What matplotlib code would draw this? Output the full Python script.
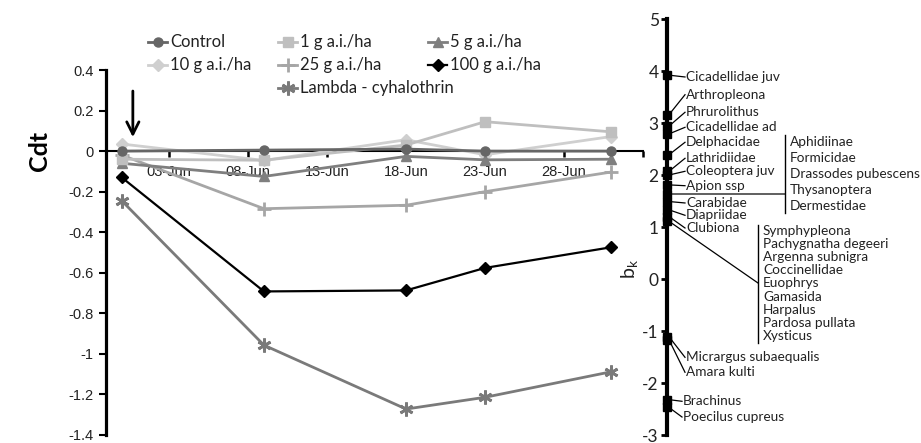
import matplotlib
matplotlib.use('Agg')
import matplotlib.pyplot as plt
import matplotlib.dates as mdates
import matplotlib.transforms as mtransforms
from matplotlib.lines import Line2D
from matplotlib.ticker import FixedLocator, FuncFormatter
import numpy as np

plt.rcParams['font.family'] = ['Lato', 'DejaVu Sans']
plt.rcParams['axes.unicode_minus'] = False

# sampling dates and community deviation (Cdt) per treatment
dates = np.array(['2010-05-31', '2010-06-09', '2010-06-18', '2010-06-23', '2010-07-01'],
                 dtype='datetime64[D]')
cdt_control = [0.0, 0.005, 0.01, 0.0, 0.0]
cdt_1g = [-0.04, -0.045, 0.03, 0.145, 0.095]
cdt_5g = [-0.06, -0.125, -0.026, -0.043, -0.04]
cdt_10g = [0.035, -0.046, 0.056, -0.018, 0.072]
cdt_25g = [-0.02, -0.284, -0.267, -0.2, -0.103]
cdt_100g = [-0.13, -0.692, -0.687, -0.576, -0.474]
cdt_lambda = [-0.245, -0.957, -1.272, -1.214, -1.088]

# species weights (bk)
single_taxa = ['Cicadellidae juv', 'Arthropleona', 'Phrurolithus', 'Cicadellidae ad',
               'Delphacidae', 'Lathridiidae', 'Coleoptera juv', 'Apion ssp',
               'Carabidae', 'Diapriidae', 'Clubiona',
               'Micrargus subaequalis', 'Amara kulti', 'Brachinus', 'Poecilus cupreus']
single_bk = [3.92, 3.16, 2.94, 2.79, 2.39, 2.07, 2.0, 1.81,
             1.49, 1.33, 1.2, -1.11, -1.17, -2.32, -2.47]
group1_taxa = ['Aphidiinae', 'Formicidae', 'Drassodes pubescens', 'Thysanoptera', 'Dermestidae']
group1_bk = 1.63
group2_taxa = ['Symphypleona', 'Pachygnatha degeeri', 'Argenna subnigra', 'Coccinellidae',
               'Euophrys', 'Gamasida', 'Harpalus', 'Pardosa pullata', 'Xysticus']
group2_bk = 1.11

# label placement (bk units) for the taxa lists
single_label_y = [3.885, 3.544, 3.206, 2.917, 2.629, 2.321, 2.071, 1.794,
                  1.462, 1.225, 0.981, -1.506, -1.794, -2.352, -2.654]
single_label_x = [19] * 11 + [19, 19, 16, 16]

W, H = 921, 443
fig = plt.figure(figsize=(W / 100, H / 100), dpi=100)

styles = [
    ('Control', cdt_control, dict(color='#666666', marker='o', ms=6.5, lw=2)),
    ('1 g a.i./ha', cdt_1g, dict(color='#bfbfbf', marker='s', ms=7.5, lw=2)),
    ('5 g a.i./ha', cdt_5g, dict(color='#7f7f7f', marker='^', ms=7.5, lw=2)),
    ('10 g a.i./ha', cdt_10g, dict(color='#cfcfcf', marker='D', ms=6.5, lw=2)),
    ('25 g a.i./ha', cdt_25g, dict(color='#a6a6a6', marker='+', ms=10, mew=2, lw=2)),
    ('100 g a.i./ha', cdt_100g, dict(color='black', marker='D', ms=6, lw=1.6)),
    ('Lambda - cyhalothrin', cdt_lambda, dict(color='#7a7a7a', marker=(6, 2, 0), ms=10, mew=2, lw=2)),
]

bottom_px = 8

# ---- left panel: Cdt over time ----
ax = fig.add_axes([106 / W, bottom_px / H, 537 / W, (437 - 72) / H])
for name, vals, st in styles[::-1]:
    ax.plot(mdates.date2num(dates), vals, clip_on=False, zorder=3, **st)

x0 = mdates.date2num(np.datetime64('2010-05-30'))
x1 = mdates.date2num(np.datetime64('2010-07-03'))
ax.set_xlim(x0, x1)
ax.set_ylim(-1.4, 0.4)
ax.set_yticks(np.arange(-1.4, 0.41, 0.2))


def ylab(v, p):
    if abs(v) < 1e-9:
        return '0'
    if abs(v - round(v)) < 1e-9:
        return '%d' % round(v)
    return '%.1f' % v


ax.yaxis.set_major_formatter(FuncFormatter(ylab))

tick_dates = np.arange(x0 + 4, x1 + 0.1, 5)
ax.xaxis.set_major_locator(FixedLocator(tick_dates))
ax.xaxis.set_major_formatter(FuncFormatter(
    lambda v, p: '' if v > x1 - 1 else mdates.num2date(v).strftime('%d-%b')))

for s in ['top', 'right']:
    ax.spines[s].set_visible(False)
ax.spines['left'].set_linewidth(2.3)
ax.spines['bottom'].set_position(('data', 0))
ax.spines['bottom'].set_linewidth(1.5)
ax.tick_params(axis='y', direction='out', length=5, width=1.5, labelsize=10.5,
               labelfontfamily='Liberation Sans', labelcolor='#222222', pad=4)
ax.tick_params(axis='x', direction='out', length=4, width=1.8, labelsize=10.5,
               labelfontfamily='Liberation Sans', labelcolor='#222222', pad=6)

ax.text(-0.123, 0, 'Cdt', rotation=90, ha='center', va='center', fontsize=18,
        fontweight='bold', transform=mtransforms.blended_transform_factory(ax.transAxes, ax.transData))

arrow_x = mdates.date2num(np.datetime64('2010-05-31')) + 0.7
ax.annotate('', xy=(arrow_x, 0.055), xytext=(arrow_x, 0.31),
            arrowprops=dict(arrowstyle='->', lw=2, color='black', mutation_scale=22))


# legend laid out in three columns
def fig_xy(px, py):
    return px / W, 1 - py / H


legend_pos = [(148, 42), (278, 42), (428, 42), (148, 65), (278, 65), (428, 65), (278, 88)]
for (name, vals, st), (lx, ly) in zip(styles, legend_pos):
    hx0, hy = fig_xy(lx, ly)
    hx1, _ = fig_xy(lx + 19, ly)
    fig.add_artist(Line2D([hx0, hx1], [hy, hy], transform=fig.transFigure,
                          color=st['color'], lw=st['lw']))
    fig.add_artist(Line2D([(hx0 + hx1) / 2], [hy], transform=fig.transFigure, **st))
    tx, ty = fig_xy(lx + 22, ly)
    fig.text(tx, ty, name, ha='left', va='center', fontsize=12, color='#222222')

# ---- right panel: species weights ----
ax2 = fig.add_axes([667 / W, bottom_px / H, 254 / W, (437 - 21) / H])
ax2.set_xlim(0, 254)
ax2.set_ylim(-3, 5)
for s in ['top', 'right', 'bottom']:
    ax2.spines[s].set_visible(False)
ax2.spines['left'].set_linewidth(3)
ax2.set_xticks([])
ax2.set_yticks(range(-3, 6))
ax2.tick_params(axis='y', direction='out', length=4, width=2, labelsize=12.5,
                labelcolor='#222222', pad=2)
ax2.patch.set_alpha(0)
ax2.text(-37, 0.2, 'b$_\\mathregular{k}$', rotation=90, ha='center', va='center',
         fontsize=14, color='#222222')

lab_fs = 9.8
for name, bk, ly, lx in zip(single_taxa, single_bk, single_label_y, single_label_x):
    ax2.plot([2, lx - 1], [bk, ly], color='black', lw=0.9, clip_on=False)
    ax2.text(lx, ly, name, ha='left', va='center', fontsize=lab_fs, color='#222222')

all_bk = single_bk + [group1_bk, group2_bk]
ax2.plot(np.zeros(len(all_bk)), all_bk, 's', color='black', ms=5.5, clip_on=False, zorder=4)

# first group: horizontal leader to a bracket
g1_x = 118
ax2.plot([0, g1_x], [group1_bk, group1_bk], color='#444444', lw=1.2)
ax2.plot([g1_x, g1_x], [2.76, 1.27], color='black', lw=1)
for i, name in enumerate(group1_taxa):
    ax2.text(g1_x + 5, 2.635 - i * 0.308, name, ha='left', va='center', fontsize=lab_fs,
             color='#222222')

# second group: diagonal leader to a bracket
g2_x = 91
ax2.plot([2, g2_x], [group2_bk, -0.077], color='black', lw=0.9)
ax2.plot([g2_x, g2_x], [1.03, -1.23], color='black', lw=1)
for i, name in enumerate(group2_taxa):
    ax2.text(g2_x + 5, 0.923 - i * 0.252, name, ha='left', va='center', fontsize=lab_fs,
             color='#222222')

fig.savefig('out.png', dpi=100)
